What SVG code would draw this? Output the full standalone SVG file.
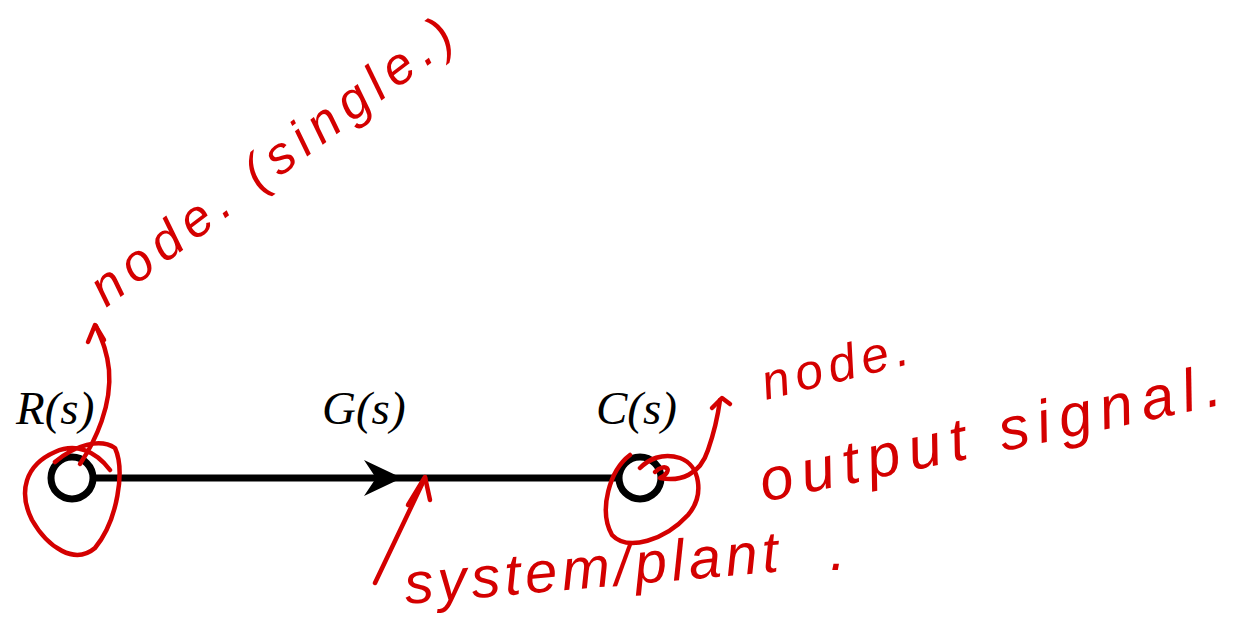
<svg xmlns="http://www.w3.org/2000/svg" width="1234" height="629" viewBox="0 0 1234 629">
<style>
.lbl{font-family:"Liberation Serif",serif;font-style:italic;font-size:47px;fill:#000}
.node{fill:none;stroke:#000;stroke-width:7}
.edge{stroke:#000;stroke-width:7;fill:none}
.ink{fill:none;stroke:#d40000;stroke-width:4.5;stroke-linecap:round;stroke-linejoin:round}
.hand{font-family:"Liberation Sans",sans-serif;font-style:italic;fill:#d40000}
</style>
<rect width="1234" height="629" fill="#fff"/>
<g id="connectors">
<line class="edge" x1="96" y1="478" x2="616" y2="478"/>
<path d="M402,478 L364,460 L376,478 L364,496 Z" fill="#000"/>
</g>
<g id="node-R">
<circle class="node" cx="72" cy="478" r="21"/>
<text class="lbl" x="16" y="424">R(s)</text>
</g>
<g id="node-C">
<circle class="node" cx="640" cy="478" r="21"/>
<text class="lbl" x="596" y="424">C(s)</text>
</g>
<g id="edge-label">
<text class="lbl" x="322" y="424">G(s)</text>
</g>
<g id="annotations">
<path class="ink" d="M80,464 C96,440 112,405 109,370 C107,350 101,338 96,326"/>
<path class="ink" d="M88,342 L95,325 L104,340"/>
<path class="ink" d="M55,462 C75,445 100,438 115,448 C125,470 118,520 95,548 C75,565 48,548 32,520 C18,492 25,465 55,452 C75,443 95,450 110,470"/>
<path class="ink" d="M655,472 C665,462 675,470 660,478 C680,482 700,475 708,450 C715,430 718,415 720,400"/>
<path class="ink" d="M712,408 L722,398 L730,404"/>
<path class="ink" d="M630,455 C610,470 598,510 612,535 C628,552 665,540 688,515 C705,495 700,465 680,458 C662,452 648,460 640,468"/>
<path class="ink" d="M375,583 L425,478"/>
<path class="ink" d="M408,505 L425,477 L430,500"/>
<text class="hand" font-size="52" transform="translate(106,308) rotate(-37)" textLength="440" lengthAdjust="spacing">node. (single.)</text>
<text class="hand" font-size="50" transform="translate(766,400) rotate(-14)" textLength="150" lengthAdjust="spacing">node.</text>
<text class="hand" font-size="60" transform="translate(764,502) rotate(-12)" textLength="470" lengthAdjust="spacing">output signal.</text>
<text class="hand" font-size="58" transform="translate(406,604) rotate(-5)" textLength="375" lengthAdjust="spacing">system/plant</text>
<text class="hand" font-size="58" x="830" y="570">.</text>
</g>
</svg>
